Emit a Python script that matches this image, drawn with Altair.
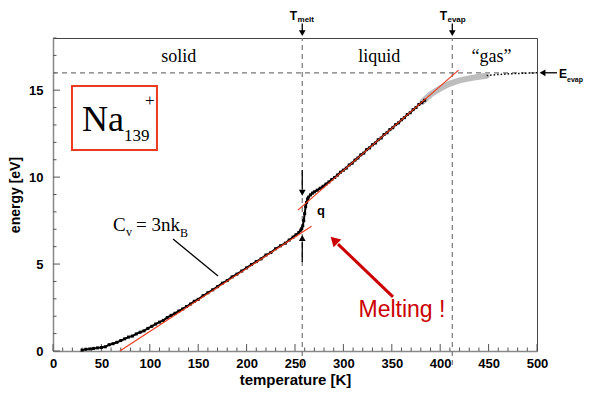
import altair as alt
import pandas as pd

# ---------------- data ----------------
T_solid = [30, 34, 38, 42, 46, 50, 54, 58, 62, 66, 70, 74, 78, 82, 86, 90, 94, 98, 102, 106,
           110, 114, 118, 122, 126, 130, 134, 138, 142, 146, 150, 155, 160, 165, 170, 175, 180,
           185, 190, 195, 200, 205, 210, 215, 220, 225, 230, 235, 240, 244, 248, 251, 254, 256,
           257, 258, 259, 260, 261, 262, 263]
E_solid = [0.05, 0.10, 0.12, 0.15, 0.18, 0.20, 0.24, 0.36, 0.42, 0.50, 0.60, 0.70, 0.80, 0.86,
           0.98, 1.08, 1.16, 1.30, 1.42, 1.55, 1.66, 1.76, 1.92, 2.05, 2.17, 2.30, 2.42, 2.56,
           2.70, 2.86, 2.97, 3.18, 3.35, 3.52, 3.70, 3.90, 4.05, 4.26, 4.42, 4.60, 4.78, 4.97,
           5.14, 5.30, 5.52, 5.66, 5.88, 6.05, 6.20, 6.38, 6.55, 6.68, 6.82, 6.95, 7.05, 7.20,
           7.50, 7.90, 8.30, 8.55, 8.75]
T_liquid = [264, 266, 268, 270, 273, 276, 279, 282, 285, 288, 291, 294, 297, 300, 303, 306, 309,
            312, 315, 318, 321, 324, 327, 330, 333, 336, 339, 342, 345, 348, 351, 354, 357, 360,
            363, 366, 369, 372, 375, 378, 381, 384]
E_liquid = [8.85, 8.98, 9.08, 9.15, 9.25, 9.36, 9.47, 9.60, 9.72, 9.86, 9.98, 10.12, 10.28, 10.40,
            10.52, 10.70, 10.80, 10.98, 11.10, 11.28, 11.38, 11.58, 11.68, 11.86, 11.96, 12.15,
            12.25, 12.45, 12.55, 12.73, 12.84, 13.02, 13.12, 13.30, 13.42, 13.60, 13.70, 13.88,
            14.00, 14.18, 14.28, 14.42]
T_gas = [382, 390, 400, 410, 420, 430, 440, 448]
E_gas = [14.35, 14.75, 15.10, 15.38, 15.56, 15.68, 15.77, 15.83]
T_dotted = [448, 460, 475, 490, 500]
E_dotted = [15.84, 15.90, 15.95, 15.98, 16.00]

fit_solid_T = [69, 267]
fit_solid_E = [0.0, 7.17]
fit_liquid_T = [253, 419]
fit_liquid_E = [8.10, 16.15]

T_melt = 257.5
T_evap = 412.5
E_evap = 16.0

x_major = list(range(0, 501, 50))
x_minor = [v for v in range(0, 501, 10) if v % 50]
y_major = [0, 5, 10, 15]
y_minor = [v for v in range(0, 19) if v % 5]

RED = "#ee3a1c"
DARKRED = "#cc0000"

X = alt.X("T:Q", scale=alt.Scale(domain=[0, 500], nice=False, zero=False),
          axis=alt.Axis(values=x_major, format="d", ticks=False, tickSize=0, grid=False,
                        labelFlush=False, labelOverlap=False,
                        labelFont="Liberation Sans", labelFontWeight="bold", labelFontSize=13,
                        labelColor="black", labelPadding=6, domainColor="#888888",
                        domainWidth=1.5, title="temperature [K]", titleFont="Liberation Sans",
                        titleFontSize=15, titleFontWeight="bold", titleColor="black",
                        titlePadding=2))
Y = alt.Y("E:Q", scale=alt.Scale(domain=[0, 18], nice=False, zero=False),
          axis=alt.Axis(values=y_major, format="d", ticks=False, tickSize=0, grid=False,
                        labelFlush=False, labelOverlap=False,
                        labelFont="Liberation Sans", labelFontWeight="bold", labelFontSize=13,
                        labelColor="black", labelPadding=10, domainColor="#888888",
                        domainWidth=1.5, title="energy [eV]", titleFont="Liberation Sans",
                        titleFontSize=14, titleFontWeight="bold", titleColor="black",
                        titlePadding=6))


def df(**cols):
    return pd.DataFrame(cols)


layers = []

# ticks (inward)
layers.append(alt.Chart(df(T=x_major)).mark_rule(color="#555", strokeWidth=1).encode(
    x=X, y=alt.value(313), y2=alt.value(306)))
layers.append(alt.Chart(df(T=x_minor)).mark_rule(color="#555", strokeWidth=1).encode(
    x=X, y=alt.value(313), y2=alt.value(309.5)))
layers.append(alt.Chart(df(E=y_major)).mark_rule(color="#555", strokeWidth=1).encode(
    y=Y, x=alt.value(0), x2=alt.value(7)))
layers.append(alt.Chart(df(E=y_minor)).mark_rule(color="#555", strokeWidth=1).encode(
    y=Y, x=alt.value(0), x2=alt.value(3.5)))

# dashed guide lines
dash = dict(color="#777777", strokeWidth=1.2, strokeDash=[5, 4])
layers.append(alt.Chart(df(T=[T_melt, T_evap], E=[-0.8, -0.8], E2=[18, 18])).mark_rule(**dash)
              .encode(x=X, y=Y, y2="E2:Q"))
layers.append(alt.Chart(df(T=[0], T2=[500], E=[E_evap])).mark_rule(**dash)
              .encode(x=X, x2="T2:Q", y=Y))

# gray "gas" band and dotted extension
layers.append(alt.Chart(df(T=T_gas, E=E_gas)).mark_line(color="#bdbdbd", strokeWidth=6,
                                                         strokeCap="round").encode(x=X, y=Y))
layers.append(alt.Chart(df(T=T_dotted, E=E_dotted)).mark_line(color="black", strokeWidth=1.5,
                                                               strokeDash=[1.5, 2]).encode(x=X, y=Y))

# black simulation data
seg_df = pd.concat([df(T=T_solid, E=E_solid, s="a"), df(T=T_liquid, E=E_liquid, s="b")])
layers.append(alt.Chart(seg_df).mark_line(color="black", strokeWidth=2).encode(
    x=X, y=Y, detail="s:N"))
layers.append(alt.Chart(seg_df).mark_square(color="black", size=9, opacity=1).encode(x=X, y=Y))

# red fit lines
layers.append(alt.Chart(pd.concat([df(T=fit_solid_T, E=fit_solid_E, s="a"),
                                   df(T=fit_liquid_T, E=fit_liquid_E, s="b")]))
              .mark_line(color=RED, strokeWidth=1.2).encode(x=X, y=Y, detail="s:N"))

# Na139+ box
layers.append(alt.Chart(df(T=[19.6], T2=[107.4], E=[15.24], E2=[11.56]))
              .mark_rect(fill=None, stroke=RED, strokeWidth=2)
              .encode(x=X, x2="T2:Q", y=Y, y2="E2:Q"))

# arrows: shafts
shafts = df(T=[T_melt, T_evap, 508.3, T_melt, T_melt, 124.0],
            T2=[T_melt, T_evap, 520.7, T_melt, T_melt, 170.5],
            E=[18.83, 18.83, E_evap, 10.41, 5.12, 6.44],
            E2=[18.40, 18.40, E_evap, 9.30, 6.30, 4.31])
layers.append(alt.Chart(shafts).mark_rule(color="black", strokeWidth=1.3)
              .encode(x=X, x2="T2:Q", y=Y, y2="E2:Q"))
layers.append(alt.Chart(df(T=[351.2], T2=[294.4], E=[3.11], E2=[6.15]))
              .mark_rule(color=DARKRED, strokeWidth=3).encode(x=X, x2="T2:Q", y=Y, y2="E2:Q"))

# arrow heads
heads = df(T=[T_melt, T_evap, 505.7, T_melt, T_melt],
           E=[18.28, 18.28, E_evap, 9.10, 6.50],
           shp=["triangle-down", "triangle-down", "triangle-left", "triangle-down", "triangle-up"])
layers.append(alt.Chart(heads).mark_point(filled=True, color="black", size=45, opacity=1)
              .encode(x=X, y=Y, shape=alt.Shape("shp:N", scale=None)))
layers.append(alt.Chart(df(T=[290.3], E=[6.38])).mark_point(
    filled=True, color=DARKRED, size=120, opacity=1, shape="triangle-up", angle=314)
    .encode(x=X, y=Y))


# texts
def text_layer(d, **kw):
    return alt.Chart(d).mark_text(baseline="alphabetic", **kw).encode(
        x=X, y=Y, text="txt:N", size=alt.Size("fs:Q", scale=None))


layers.append(text_layer(df(T=[130, 337, 453], E=[16.62] * 3, txt=["solid", "liquid", "“gas”"],
                            fs=[18] * 3), font="Liberation Serif", align="center", color="black"))
layers.append(text_layer(df(T=[62.0, 75.4, 85.7, 131.2, 30.0, 73.3, 95.0],
                            E=[6.90, 6.61, 6.90, 6.56, 12.65, 12.08, 14.09],
                            txt=["C", "v", "= 3nk", "B", "Na", "139", "+"],
                            fs=[19, 12, 19, 12, 36, 17, 17]),
                         font="Liberation Serif", align="left", color="black"))
layers.append(text_layer(df(T=[252.1, 407.0], E=[19.06, 19.06], txt=["T", "T"], fs=[12, 12]),
                         font="Liberation Sans", fontWeight="bold", align="right", color="black"))
layers.append(text_layer(df(T=[252.6, 407.5, 522.7, 531.0], E=[18.92, 18.92, 15.70, 15.47],
                            txt=["melt", "evap", "E", "evap"], fs=[8, 8, 12, 7]),
                         font="Liberation Sans", fontWeight="bold", align="left", color="black"))
layers.append(text_layer(df(T=[276.9], E=[7.82], txt=["q"], fs=[13]),
                         font="Liberation Sans", fontWeight="bold", align="center", color="black"))
layers.append(text_layer(df(T=[360.5], E=[1.95], txt=["Melting !"], fs=[23]),
                         font="Liberation Sans", align="center", color=DARKRED))

chart = alt.layer(*layers).properties(
    width=484, height=313,
    autosize=alt.AutoSizeParams(type="none"),
    padding={"left": 45, "top": 30, "right": 49, "bottom": 39},
    background="white",
).configure_view(stroke="#444444", strokeWidth=1)

chart.save("out.html", embed_options={"renderer": "svg", "actions": False})
